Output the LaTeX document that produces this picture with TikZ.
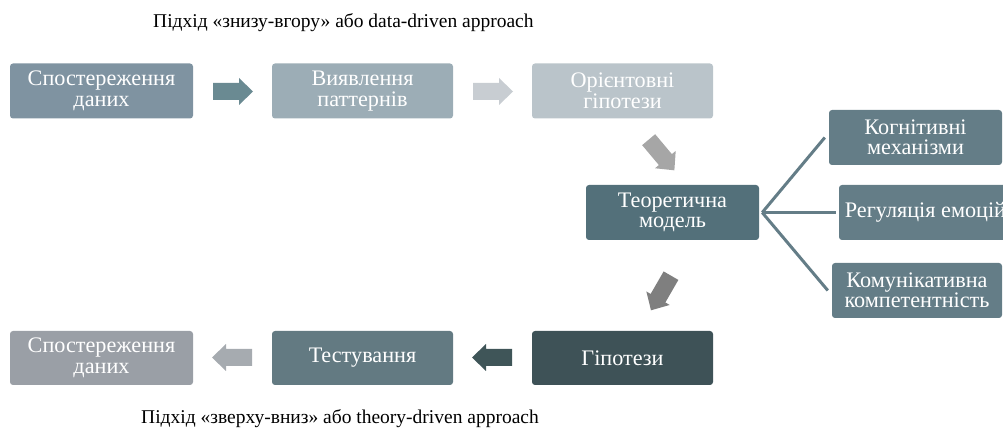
\documentclass[tikz,border=0pt]{standalone}
\usepackage{fontspec}
\setmainfont{Liberation Serif}
\definecolor{cA}{HTML}{7F93A1}
\definecolor{cB}{HTML}{9CADB6}
\definecolor{cC}{HTML}{BAC4CA}
\definecolor{aA}{HTML}{6A8A92}
\definecolor{aB}{HTML}{C8CDD2}
\definecolor{aD}{HTML}{A6A6A6}
\definecolor{cT}{HTML}{53707A}
\definecolor{cS}{HTML}{647D87}
\definecolor{aE}{HTML}{7F7F7F}
\definecolor{cG}{HTML}{3E5257}
\definecolor{cE}{HTML}{637A82}
\definecolor{cD}{HTML}{9A9FA6}
\definecolor{aF}{HTML}{A6ABB0}
\definecolor{aG}{HTML}{3F5558}
\tikzset{
  box/.style={rounded corners=3pt, minimum height=55pt, inner sep=0pt, text=white,
    align=center, font=\fontsize{22.2}{20.5}\selectfont},
  link/.style={draw=cS, line width=3pt},
  barrow/.pic={\fill (-20,-8.5) -- (6,-8.5) -- (6,-13.5) -- (20,0) -- (6,13.5) -- (6,8.5) -- (-20,8.5) -- cycle;},
  ttl/.style={anchor=base west, inner sep=0pt, font=\fontsize{19.5}{22}\selectfont}
}
\begin{document}
\begin{tikzpicture}[x=1pt,y=1pt]
\useasboundingbox (0,0) rectangle (1003,428);
\node[ttl] (t1) at (153,400) {Підхід «знизу-вгору» або data-driven approach};
\node[ttl] (t2) at (141,5) {Підхід «зверху-вниз» або theory-driven approach};
% top row
\node[box, fill=cA, minimum width=183pt] (b1) at (101.5,337) {Спостереження\\даних};
\node[box, fill=cB, minimum width=181pt] (b2) at (362.5,337) {Виявлення\\паттернів};
\node[box, fill=cC, minimum width=181pt] (b3) at (622.5,337) {Орієнтовні\\гіпотези};
% middle
\node[box, fill=cT, minimum width=173pt] (tm) at (672.5,215.5) {Теоретична\\модель};
\node[box, fill=cS, minimum width=173pt] (k1) at (915.5,290.5) {Когнітивні\\механізми};
\node[box, fill=cS, minimum width=173pt] (k2) at (925.5,215.5) {Регуляція емоцій};
\node[box, fill=cS, minimum width=170pt] (k3) at (917,137.5) {Комунікативна\\компетентність};
% bottom row
\node[box, fill=cD, minimum width=183pt, minimum height=54pt] (b4) at (101.5,70) {Спостереження\\даних};
\node[box, fill=cE, minimum width=181pt, minimum height=54pt] (b5) at (362.5,70) {Тестування};
\node[box, fill=cG, minimum width=181pt, minimum height=54pt] (b6) at (622.5,70) {Гіпотези};
% links
\coordinate (hub) at ([xshift=3pt]tm.east);
\draw[link] (hub) -- ([xshift=-4pt]k1.west);
\draw[link] (hub) -- ([xshift=-3pt]k2.west);
\draw[link] (hub) -- ([xshift=-4pt]k3.west);
% block arrows
\pic[fill=aA] at (233,336.5) {barrow};
\pic[fill=aB] at (493,336.5) {barrow};
\pic[fill=aD, rotate=-50] at (661.5,273) {barrow};
\pic[fill=aE, rotate=-120] at (661,135) {barrow};
\pic[fill=aF, rotate=180] at (232,70.5) {barrow};
\pic[fill=aG, rotate=180] at (492,70.5) {barrow};
\end{tikzpicture}
\end{document}
